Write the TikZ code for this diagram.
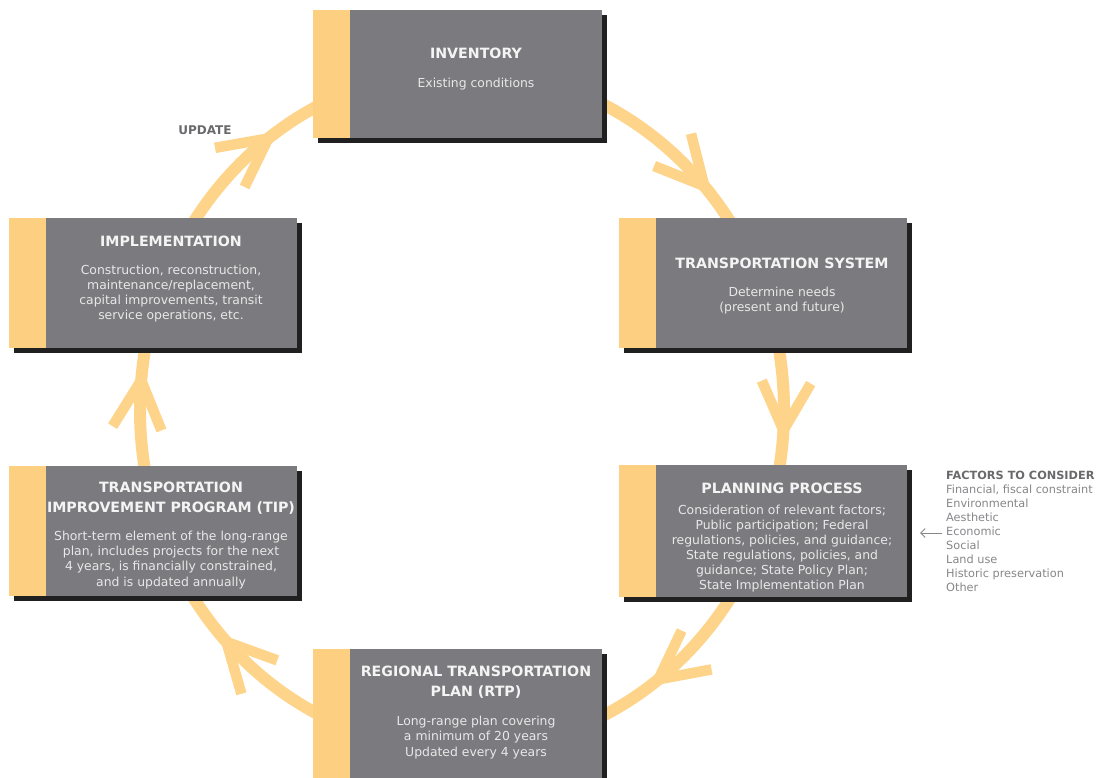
\documentclass[tikz,border=0pt]{standalone}
\usepackage{fontspec}
\setmainfont{DejaVu Sans}
\usetikzlibrary{calc,arrows.meta}
\definecolor{boxc}{RGB}{123,122,127}
\definecolor{stripc}{RGB}{253,207,128}
\definecolor{ringc}{RGB}{253,212,138}
\definecolor{shadc}{RGB}{32,32,32}
\definecolor{ttlc}{RGB}{244,244,244}
\definecolor{bodyc}{RGB}{232,232,232}
\definecolor{factt}{RGB}{105,105,108}
\definecolor{factb}{RGB}{135,135,138}
\newcommand\chevron[1]{\draw[barb] ($(ctr)+(#1:322 and 340)$) coordinate (tip) -- ++({#1-63}:54) (tip) -- ++({#1-117}:54);}
\newcommand\card[5]{%
  \fill[shadc] ({#2+5},{#3+5}) rectangle ({#4+5},{#5+5});
  \fill[stripc] (#2,#3) rectangle ({#2+37},#5);
  \node[gray box, minimum width={#4-#2-37}, minimum height={#5-#3}] (#1) at ({(#2+37+#4)/2},{(#3+#5)/2}) {};}
\begin{document}
\begin{tikzpicture}[x=1pt,y=-1pt,
  ttl/.style={text=ttlc, font=\fontsize{14.2}{20}\selectfont\bfseries, align=center, inner sep=0},
  body/.style={text=bodyc, font=\fontsize{12.4}{15.1}\selectfont, align=center, inner sep=0},
  ring/.style={draw=ringc, line width=12pt},
  barb/.style={draw=ringc, line width=10.5pt},
  gray box/.style={fill=boxc, draw=none, inner sep=0, rectangle}]
\useasboundingbox (0,0) rectangle (1106,778);
\fill[white] (0,0) rectangle (1106,778);
% cycle ring
\coordinate (ctr) at (462,410);
\draw[ring] (ctr) ellipse [x radius=322, y radius=340];
\chevron{-41.2}
\chevron{3.4}
\chevron{52.4}
\chevron{137}
\chevron{185}
\chevron{233}
% boxes
\card{inv}{313}{10}{602}{138}
\card{ts}{619}{218}{907}{348}
\card{pp}{619}{465}{907}{597}
\card{tip}{9}{466}{297}{596}
\card{impl}{9}{218}{297}{348}
\card{rtp}{313}{649}{602}{778}
% texts
\node[ttl] (inv-t) at (476,53) {INVENTORY};
\node[body] (inv-b) at (476,84) {Existing conditions};
\node[ttl] (ts-t) at (782,263) {TRANSPORTATION SYSTEM};
\node[body] (ts-b) at (782,301) {Determine needs\\(present and future)};
\node[ttl] (pp-t) at (782,488) {PLANNING PROCESS};
\node[body] (pp-b) at (782,548.5) {Consideration of relevant factors;\\Public participation; Federal\\regulations, policies, and guidance;\\State regulations, policies, and\\guidance; State Policy Plan;\\State Implementation Plan};
\node[ttl] (tip-t) at (171,498) {TRANSPORTATION\\IMPROVEMENT PROGRAM (TIP)};
\node[body] (tip-b) at (171,560) {Short-term element of the long-range\\plan, includes projects for the next\\4 years, is financially constrained,\\and is updated annually};
\node[ttl] (impl-t) at (171,241) {IMPLEMENTATION};
\node[body] (impl-b) at (171,293.5) {Construction, reconstruction,\\maintenance/replacement,\\capital improvements, transit\\service operations, etc.};
\node[ttl] (rtp-t) at (476,682) {REGIONAL TRANSPORTATION\\PLAN (RTP)};
\node[body] (rtp-b) at (476,737.5) {Long-range plan covering\\a minimum of 20 years\\Updated every 4 years};
\node[text=factt, font=\fontsize{12}{14}\selectfont\bfseries, inner sep=0] (upd) at (205,130) {UPDATE};
% factors
\node[anchor=north west, inner sep=0, align=left, text=factb, font=\fontsize{11.3}{14}\selectfont] (fac) at (946,471)
  {{\bfseries\color{factt}FACTORS TO CONSIDER}\\Financial, fiscal constraint\\Environmental\\Aesthetic\\Economic\\Social\\Land use\\Historic preservation\\Other};
\coordinate (econ) at (942,533);
\coordinate (econ-tip) at (920,533);
\draw[draw=factb, line width=1pt, -{Straight Barb[length=4.5pt,width=9pt]}] (econ) -- (econ-tip);
\end{tikzpicture}
\end{document}
